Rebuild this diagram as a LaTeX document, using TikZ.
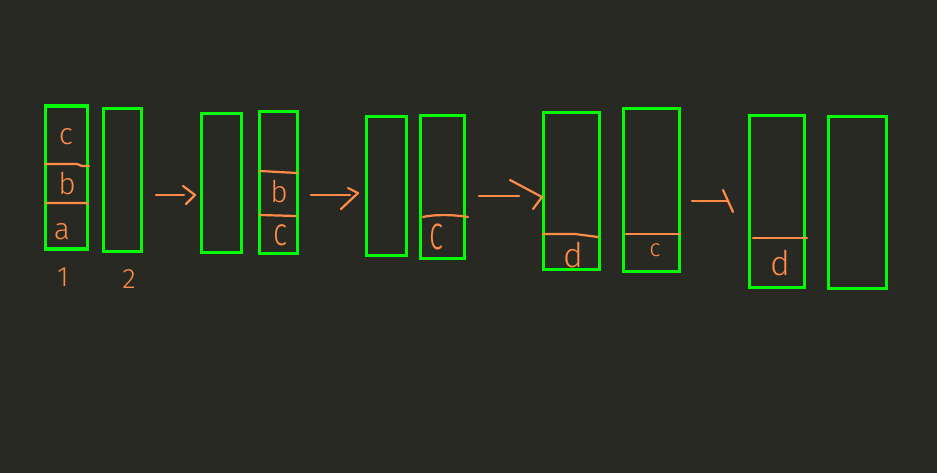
\documentclass[tikz,border=0pt]{standalone}
\usepackage{fontspec}
\newfontfamily\hand{Fira Sans Light}
\definecolor{bg}{RGB}{41,41,36}
\definecolor{grn}{RGB}{5,250,5}
\definecolor{org}{RGB}{255,140,70}
\tikzset{
  box/.style={draw=grn, line width=3.2pt, minimum height=0pt, inner sep=0pt, rectangle},
  ink/.style={draw=org, line width=2.2pt, line cap=round, line join=round},
  letter/.style={text=org, font=\hand\fontsize{30}{30}\selectfont, inner sep=0pt}
}
\begin{document}
\begin{tikzpicture}[x=1pt,y=-1pt]
\fill[bg] (0,0) rectangle (937,473);
\useasboundingbox (0,0) rectangle (937,473);
% boxes
\node[box, minimum width=42pt, minimum height=143pt] (b1) at (66.5,177.5) {};
\node[box, minimum width=38pt, minimum height=143pt] (b2) at (122.5,180) {};
\node[box, minimum width=40pt, minimum height=139pt] (b3) at (221.5,183) {};
\node[box, minimum width=38pt, minimum height=142pt] (b4) at (278.5,182.5) {};
\node[box, minimum width=40pt, minimum height=139pt] (b5) at (386.5,186) {};
\node[box, minimum width=44pt, minimum height=143pt] (b6) at (442.5,187) {};
\node[box, minimum width=56pt, minimum height=157pt] (b7) at (571.5,191) {};
\node[box, minimum width=56pt, minimum height=163pt] (b8) at (651.5,190) {};
\node[box, minimum width=55pt, minimum height=172pt] (b9) at (777,201.5) {};
\node[box, minimum width=58pt, minimum height=172pt] (b10) at (857.5,202.5) {};
% dividers
\draw[ink] (45,164) -- (77,164) -- (82,166) -- (89,166);
\draw[ink] (46,203) -- (86,203) -- (88,204);
\draw[ink] (260,171) -- (297,173);
\draw[ink] (260,215) -- (296,216);
\draw[ink] (423,217) .. controls (430,215) and (450,214) .. (468,217);
\draw[ink] (543,234) -- (575,234) -- (598,237);
\draw[ink] (626,234) -- (680,234);
\draw[ink] (753,238) -- (807,238);
% letters
\node[letter] (lc1) at (66,137) {c};
\node[letter] (lb1) at (67,184) {b};
\node[letter] (la1) at (62,232) {a};
\node[letter, font=\hand\fontsize{28}{28}\selectfont] (n1) at (63,277) {1};
\node[letter, font=\hand\fontsize{28}{28}\selectfont] (n2) at (129,279) {2};
\node[letter] (lb4) at (279,192) {b};
\node[letter, yscale=1.3] (lc4) at (281,235) {c};
\node[letter, yscale=1.6] (lc6) at (437,237) {c};
\node[letter, font=\hand\fontsize{34}{34}\selectfont] (ld7) at (573,255) {d};
\node[letter, font=\hand\fontsize{24}{24}\selectfont] (lc8) at (655,250) {c};
\node[letter, font=\hand\fontsize{34}{34}\selectfont] (ld9) at (780,263) {d};
% arrows
\coordinate (s1) at (156,195); \coordinate (t1) at (195,195);
\coordinate (s2) at (311,195); \coordinate (t2) at (358,193);
\coordinate (s3) at (479,196); \coordinate (t3) at (542,197);
\coordinate (s4) at (692,201); \coordinate (t4) at (728,201);
\draw[ink] (s1) -- (184,195);
\draw[ink] (183,186) -- (t1) -- (186,204);
\draw[ink] (s2) -- (350,195);
\draw[ink] (348,188) -- (t2) -- (341,209);
\draw[ink] (s3) -- (519,196);
\draw[ink] (510,180) -- (t3) -- (533,209);
\draw[ink] (s4) -- (t4);
\draw[ink] (723,190) -- (733,212);
\end{tikzpicture}
\end{document}
